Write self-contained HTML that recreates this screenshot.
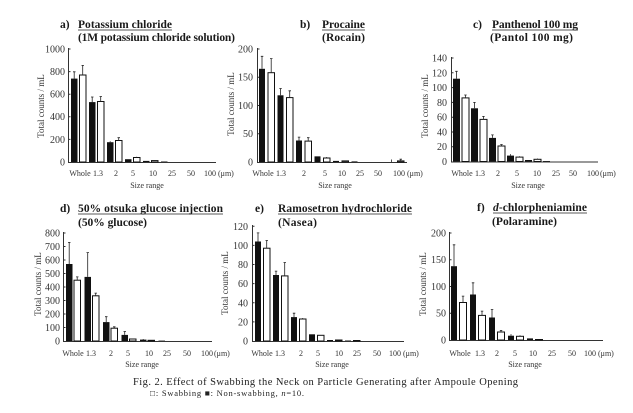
<!DOCTYPE html>
<html><head><meta charset="utf-8"><style>
html,body{margin:0;padding:0;background:#fff;}
svg{display:block;}
text{font-family:"Liberation Serif",serif;}
.t{font-size:11.5px;font-weight:bold;fill:#1a1a1a;}
.tk{font-size:10px;fill:#333;text-anchor:end;}
.c{font-size:8px;fill:#333;text-anchor:middle;}
.cs{font-size:8px;fill:#333;}
.yl{font-size:9px;fill:#333;text-anchor:middle;}
.ax{stroke:#333;stroke-width:1;fill:none;}
.b{fill:#111;}
.w{fill:#fff;stroke:#111;stroke-width:1;}
.e{stroke:#222;stroke-width:0.8;fill:none;}
</style></head><body>
<svg width="633" height="413" viewBox="0 0 633 413" xmlns="http://www.w3.org/2000/svg">
<rect width="633" height="413" fill="#fff"/>

<!-- ===== Panel a ===== -->
<text class="t" x="60" y="28">a)</text>
<text class="t" x="78" y="28" textLength="94">Potassium chloride</text>
<line x1="78" y1="30" x2="172" y2="30" stroke="#222" stroke-width="0.8"/>
<text class="t" x="78" y="41" textLength="157">(1M potassium chloride solution)</text>
<text class="yl" transform="translate(44,106) rotate(-90)">Total counts / mL</text>
<path class="ax" d="M68.5,48 V162.5 H216"/>
<path class="ax" d="M68.5,49 h2 M68.5,71.6 h2 M68.5,94.2 h2 M68.5,116.8 h2 M68.5,139.4 h2"/>
<text class="tk" x="65" y="52.5">1000</text>
<text class="tk" x="65" y="75">800</text>
<text class="tk" x="65" y="97.5">600</text>
<text class="tk" x="65" y="120">400</text>
<text class="tk" x="65" y="143">200</text>
<text class="tk" x="65" y="165.5">0</text>
<rect class="b" x="71" y="78.6" width="6.5" height="83.4"/>
<rect class="w" x="79.5" y="75" width="6.5" height="87"/>
<rect class="b" x="89" y="102.1" width="6.5" height="59.9"/>
<rect class="w" x="97.5" y="101.5" width="6.5" height="60.5"/>
<rect class="b" x="107" y="142.2" width="6.5" height="19.8"/>
<rect class="w" x="115.5" y="140.5" width="6.5" height="21.5"/>
<rect class="b" x="125" y="159.2" width="6.5" height="2.8"/>
<rect class="w" x="133.5" y="157.5" width="6.5" height="4.5"/>
<rect class="b" x="143" y="160.9" width="6.5" height="1.1"/>
<rect class="w" x="151.5" y="160.6" width="6.5" height="1.4"/>
<rect class="b" x="161" y="161.5" width="6.5" height="0.5"/>
<path class="e" d="M74.2,78.6 V71.8 M73,71.8 h2.5 M82.7,75 V65.4 M81.5,65.4 h2.5 M92.2,102.1 V97 M91,97 h2.5 M100.7,101.5 V96.5 M99.5,96.5 h2.5 M110.2,142.2 V141.3 M118.7,140.5 V137.7 M117.5,137.7 h2.5 M136.7,157.5 V156.8"/>
<text class="c" x="80" y="176">Whole</text>
<text class="c" x="98" y="176">1.3</text>
<text class="c" x="116" y="176">2</text>
<text class="c" x="133" y="176">5</text>
<text class="c" x="153" y="176">10</text>
<text class="c" x="172" y="176">25</text>
<text class="c" x="191" y="176">50</text>
<text class="c" x="210" y="176">100</text>
<text class="cs" x="218" y="176">(μm)</text>
<text class="c" x="147" y="188">Size range</text>

<!-- ===== Panel b ===== -->
<text class="t" x="300" y="28">b)</text>
<text class="t" x="322" y="28" textLength="43">Procaine</text>
<line x1="322" y1="30" x2="365" y2="30" stroke="#222" stroke-width="0.8"/>
<text class="t" x="322" y="41" textLength="43">(Rocain)</text>
<text class="yl" transform="translate(234,104) rotate(-90)">Total counts / mL</text>
<path class="ax" d="M257.5,48 V162.5 H407"/>
<path class="ax" d="M257.5,49 h2 M257.5,77.25 h2 M257.5,105.5 h2 M257.5,133.75 h2"/>
<text class="tk" x="253" y="52.5">200</text>
<text class="tk" x="253" y="80.5">150</text>
<text class="tk" x="253" y="109">100</text>
<text class="tk" x="253" y="137">50</text>
<text class="tk" x="253" y="165.5">0</text>
<rect class="b" x="259" y="68.8" width="6" height="93.2"/>
<rect class="w" x="268" y="72.7" width="6.5" height="89.3"/>
<rect class="b" x="277.5" y="95.3" width="6" height="66.7"/>
<rect class="w" x="286.5" y="97.6" width="6.5" height="64.4"/>
<rect class="b" x="296" y="140.5" width="6" height="21.5"/>
<rect class="w" x="305" y="141.1" width="6.5" height="20.9"/>
<rect class="b" x="314.5" y="156.35" width="6" height="5.65"/>
<rect class="w" x="323.5" y="158" width="6.5" height="4"/>
<rect class="b" x="333" y="160.9" width="6" height="1.1"/>
<rect class="w" x="342" y="160.9" width="6.5" height="1.1"/>
<rect class="b" x="351.5" y="161.4" width="6" height="0.6"/>
<rect class="w" x="397.5" y="160.9" width="6.5" height="1.1"/>
<path class="e" d="M262,68.8 V56.3 M260.8,56.3 h2.5 M271.2,72.7 V58.6 M270,58.6 h2.5 M280.5,95.3 V88.5 M279.3,88.5 h2.5 M289.7,97.6 V90.8 M288.5,90.8 h2.5 M299,140.5 V137.1 M297.8,137.1 h2.5 M308.2,141.1 V137.7 M307,137.7 h2.5 M326.7,158 V157 M391.5,162 V159.5 M400.7,160.9 V159.2 M399.5,159.2 h2.5"/>
<text class="c" x="263" y="176">Whole</text>
<text class="c" x="281" y="176">1.3</text>
<text class="c" x="304" y="176">2</text>
<text class="c" x="325" y="176">5</text>
<text class="c" x="342" y="176">10</text>
<text class="c" x="360" y="176">25</text>
<text class="c" x="378" y="176">50</text>
<text class="c" x="399" y="176">100</text>
<text class="cs" x="407" y="176">(μm)</text>
<text class="c" x="335" y="188">Size range</text>

<!-- ===== Panel c ===== -->
<text class="t" x="473" y="28">c)</text>
<text class="t" x="492" y="28" textLength="86">Panthenol 100 mg</text>
<line x1="492" y1="30" x2="578" y2="30" stroke="#222" stroke-width="0.8"/>
<text class="t" x="490" y="41" textLength="83">(Pantol 100 mg)</text>
<text class="yl" transform="translate(428,106) rotate(-90)">Total counts / mL</text>
<path class="ax" d="M451.5,57 V162 H598"/>
<path class="ax" d="M451.5,58 h2 M451.5,72.8 h2 M451.5,87.6 h2 M451.5,102.4 h2 M451.5,117.2 h2 M451.5,132 h2 M451.5,146.7 h2"/>
<text class="tk" x="447" y="61.5">140</text>
<text class="tk" x="447" y="76.3">120</text>
<text class="tk" x="447" y="91">100</text>
<text class="tk" x="447" y="106">80</text>
<text class="tk" x="447" y="120.7">60</text>
<text class="tk" x="447" y="135.5">40</text>
<text class="tk" x="447" y="150.2">20</text>
<text class="tk" x="447" y="165">0</text>
<rect class="b" x="453" y="78.7" width="7" height="82.8"/>
<rect class="w" x="462" y="97.9" width="7" height="63.6"/>
<rect class="b" x="471" y="108.3" width="7" height="53.2"/>
<rect class="w" x="480" y="119.4" width="7" height="42.1"/>
<rect class="b" x="489" y="137.9" width="7" height="23.6"/>
<rect class="w" x="498" y="146" width="7" height="15.5"/>
<rect class="b" x="507" y="155.6" width="7" height="5.9"/>
<rect class="w" x="516" y="157.1" width="7" height="4.4"/>
<rect class="b" x="525" y="160" width="7" height="1.5"/>
<rect class="w" x="534" y="159.3" width="7" height="2.2"/>
<rect class="b" x="543" y="161" width="7" height="0.5"/>
<path class="e" d="M456.5,78.7 V71.3 M455.2,71.3 h2.5 M465.5,97.9 V95 M464.2,95 h2.5 M474.5,108.3 V102.4 M473.2,102.4 h2.5 M483.5,119.4 V116.4 M482.2,116.4 h2.5 M492.5,137.9 V134.9 M491.2,134.9 h2.5 M501.5,146 V144.5 M500.2,144.5 h2.5 M510.5,155.6 V154.1 M519.5,157.1 V156.3 M537.5,159.3 V158.5"/>
<text class="c" x="462" y="176">Whole</text>
<text class="c" x="480" y="176">1.3</text>
<text class="c" x="498" y="176">2</text>
<text class="c" x="517" y="176">5</text>
<text class="c" x="537" y="176">10</text>
<text class="c" x="556" y="176">25</text>
<text class="c" x="573" y="176">50</text>
<text class="c" x="593" y="176">100</text>
<text class="cs" x="600" y="176">(μm)</text>
<text class="c" x="528" y="188">Size range</text>

<!-- ===== Panel d ===== -->
<text class="t" x="60" y="212">d)</text>
<text class="t" x="78" y="212" textLength="145">50% otsuka glucose injection</text>
<line x1="78" y1="214" x2="223" y2="214" stroke="#222" stroke-width="0.8"/>
<text class="t" x="78" y="226" textLength="69">(50% glucose)</text>
<text class="yl" transform="translate(41,284) rotate(-90)">Total counts / mL</text>
<path class="ax" d="M63.5,232 V341.5 H212"/>
<path class="ax" d="M63.5,233 h2 M63.5,246.5 h2 M63.5,260 h2 M63.5,273.5 h2 M63.5,287 h2 M63.5,300.5 h2 M63.5,314 h2 M63.5,327.5 h2"/>
<text class="tk" x="60" y="236.5">800</text>
<text class="tk" x="60" y="250">700</text>
<text class="tk" x="60" y="263.5">600</text>
<text class="tk" x="60" y="277">500</text>
<text class="tk" x="60" y="290.5">400</text>
<text class="tk" x="60" y="304">300</text>
<text class="tk" x="60" y="317.5">200</text>
<text class="tk" x="60" y="331">100</text>
<text class="tk" x="60" y="344.5">0</text>
<rect class="b" x="66" y="264" width="6.5" height="77"/>
<rect class="w" x="74" y="280.2" width="6.5" height="60.8"/>
<rect class="b" x="84.5" y="276.9" width="6.5" height="64.1"/>
<rect class="w" x="92.5" y="295.8" width="6.5" height="45.2"/>
<rect class="b" x="103" y="322.1" width="6.5" height="18.9"/>
<rect class="w" x="111" y="328.2" width="6.5" height="12.8"/>
<rect class="b" x="121.5" y="334.9" width="6.5" height="6.1"/>
<rect class="w" x="129.5" y="339" width="6.5" height="2"/>
<rect class="b" x="140" y="339.6" width="6.5" height="1.4"/>
<rect class="w" x="148" y="340.3" width="6.5" height="0.7"/>
<rect class="b" x="158.5" y="340.6" width="6.5" height="0.4"/>
<path class="e" d="M69.2,264 V242.4 M68,242.4 h2.5 M77.2,280.2 V276.9 M76,276.9 h2.5 M87.7,276.9 V252.6 M86.5,252.6 h2.5 M95.7,295.8 V293.1 M94.5,293.1 h2.5 M106.2,322.1 V316.7 M105,316.7 h2.5 M114.2,328.2 V326.8 M113,326.8 h2.5 M124.7,334.9 V331.5 M123.5,331.5 h2.5 M143.2,339.6 V339"/>
<text class="c" x="73" y="356">Whole</text>
<text class="c" x="91" y="356">1.3</text>
<text class="c" x="111" y="356">2</text>
<text class="c" x="128" y="356">5</text>
<text class="c" x="149" y="356">10</text>
<text class="c" x="167" y="356">25</text>
<text class="c" x="187" y="356">50</text>
<text class="c" x="207" y="356">100</text>
<text class="cs" x="214" y="356">(μm)</text>
<text class="c" x="142" y="367">Size range</text>

<!-- ===== Panel e ===== -->
<text class="t" x="255" y="212">e)</text>
<text class="t" x="278" y="212" textLength="134">Ramosetron hydrochloride</text>
<line x1="278" y1="214" x2="412" y2="214" stroke="#222" stroke-width="0.8"/>
<text class="t" x="278" y="226" textLength="39">(Nasea)</text>
<text class="yl" transform="translate(228,283) rotate(-90)">Total counts / mL</text>
<path class="ax" d="M252.5,225 V341.5 H404"/>
<path class="ax" d="M252.5,226.3 h2 M252.5,245.4 h2 M252.5,264.5 h2 M252.5,283.6 h2 M252.5,302.8 h2 M252.5,321.9 h2"/>
<text class="tk" x="248" y="229.8">120</text>
<text class="tk" x="248" y="249">100</text>
<text class="tk" x="248" y="268">80</text>
<text class="tk" x="248" y="287.2">60</text>
<text class="tk" x="248" y="306.3">40</text>
<text class="tk" x="248" y="325.4">20</text>
<text class="tk" x="248" y="344.5">0</text>
<rect class="b" x="255" y="241.5" width="6" height="99.5"/>
<rect class="w" x="263.5" y="248.2" width="6.5" height="92.8"/>
<rect class="b" x="273" y="275" width="6" height="66"/>
<rect class="w" x="281.5" y="275.9" width="6.5" height="65.1"/>
<rect class="b" x="291" y="317.1" width="6" height="23.9"/>
<rect class="w" x="299.5" y="319" width="6.5" height="22"/>
<rect class="b" x="309" y="334.3" width="6" height="6.7"/>
<rect class="w" x="317.5" y="335.3" width="6.5" height="5.7"/>
<rect class="b" x="327" y="340" width="6" height="1"/>
<rect class="w" x="335.5" y="340" width="6.5" height="1"/>
<rect class="b" x="345" y="340.5" width="6" height="0.5"/>
<rect class="w" x="353.5" y="340.5" width="6.5" height="0.5"/>
<path class="e" d="M258,241.5 V232.9 M256.8,232.9 h2.5 M266.7,248.2 V240.5 M265.5,240.5 h2.5 M276,275 V271.1 M274.8,271.1 h2.5 M284.7,275.9 V262.5 M283.5,262.5 h2.5 M294,317.1 V313.2 M292.8,313.2 h2.5 M302.7,319 V318"/>
<text class="c" x="262" y="356">Whole</text>
<text class="c" x="280" y="356">1.3</text>
<text class="c" x="301" y="356">2</text>
<text class="c" x="318" y="356">5</text>
<text class="c" x="339" y="356">10</text>
<text class="c" x="357" y="356">25</text>
<text class="c" x="377" y="356">50</text>
<text class="c" x="395" y="356">100</text>
<text class="cs" x="403" y="356">(μm)</text>
<text class="c" x="332" y="367">Size range</text>

<!-- ===== Panel f ===== -->
<text class="t" x="477" y="211">f)</text>
<text class="t" x="493" y="211" textLength="94"><tspan font-style="italic">d</tspan>-chlorpheniamine</text>
<line x1="493" y1="213" x2="587" y2="213" stroke="#222" stroke-width="0.8"/>
<text class="t" x="492" y="225" textLength="65">(Polaramine)</text>
<text class="yl" transform="translate(426,284) rotate(-90)">Total counts / mL</text>
<path class="ax" d="M449.5,232 V340.5 H603"/>
<path class="ax" d="M449.5,233 h2 M449.5,259.75 h2 M449.5,286.5 h2 M449.5,313.25 h2"/>
<text class="tk" x="446" y="236.5">200</text>
<text class="tk" x="446" y="263.2">150</text>
<text class="tk" x="446" y="290">100</text>
<text class="tk" x="446" y="316.7">50</text>
<text class="tk" x="446" y="343.5">0</text>
<rect class="b" x="451" y="266.2" width="6" height="73.8"/>
<rect class="w" x="459.5" y="302.5" width="7" height="37.5"/>
<rect class="b" x="470" y="294.5" width="6" height="45.5"/>
<rect class="w" x="478.5" y="315.4" width="7" height="24.6"/>
<rect class="b" x="489" y="317.5" width="6" height="22.5"/>
<rect class="w" x="497.5" y="332" width="7" height="8"/>
<rect class="b" x="508" y="335.7" width="6" height="4.3"/>
<rect class="w" x="516.5" y="336.3" width="7" height="3.7"/>
<rect class="b" x="527" y="338.4" width="6" height="1.6"/>
<rect class="w" x="535.5" y="339.5" width="7" height="0.5"/>
<path class="e" d="M454,266.2 V244.8 M452.8,244.8 h2.5 M463,302.5 V296.1 M461.8,296.1 h2.5 M473,294.5 V282.8 M471.8,282.8 h2.5 M482,315.4 V311.1 M480.8,311.1 h2.5 M492,317.5 V309.5 M490.8,309.5 h2.5 M501,332 V330.4 M499.8,330.4 h2.5 M511,335.7 V334.1 M520,336.3 V335.2"/>
<text class="c" x="460" y="356">Whole</text>
<text class="c" x="480" y="356">1.3</text>
<text class="c" x="497" y="356">2</text>
<text class="c" x="515" y="356">5</text>
<text class="c" x="533" y="356">10</text>
<text class="c" x="552" y="356">25</text>
<text class="c" x="572" y="356">50</text>
<text class="c" x="590" y="356">100</text>
<text class="cs" x="598" y="356">(μm)</text>
<text class="c" x="525" y="367">Size range</text>

<!-- ===== Caption ===== -->
<text x="133" y="385" font-size="10.5px" fill="#222" textLength="385" lengthAdjust="spacing">Fig. 2.   Effect of Swabbing the Neck on Particle Generating after Ampoule Opening</text>
<text x="150" y="396" font-size="8.5px" fill="#222" textLength="154" lengthAdjust="spacing">□: Swabbing    ■: Non-swabbing, <tspan font-style="italic">n</tspan>=10.</text>
</svg>
</body></html>
